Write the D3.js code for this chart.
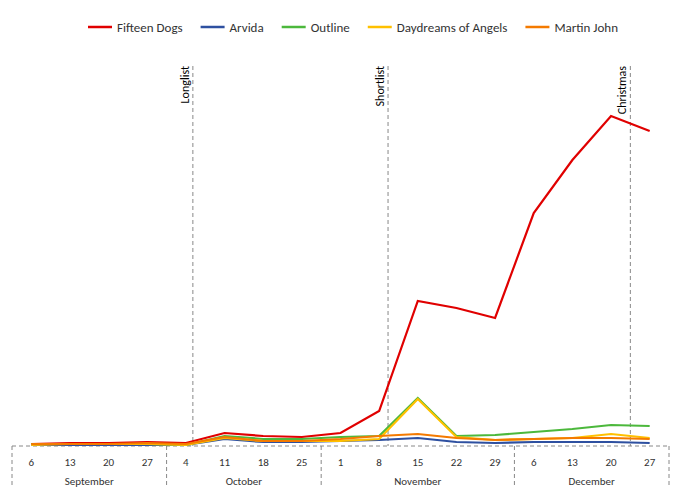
<!DOCTYPE html>
<html><head><meta charset="utf-8">
<script src="https://cdn.jsdelivr.net/npm/d3@7"></script>
<style>body{margin:0;background:#fff;font-family:Carlito,"Liberation Sans",sans-serif;}</style>
</head><body>
<script>
var days = ["6","13","20","27","4","11","18","25","1","8","15","22","29","6","13","20","27"];
var months = [{name: "September", from: 0, to: 3}, {name: "October", from: 4, to: 7},
              {name: "November", from: 8, to: 12}, {name: "December", from: 13, to: 16}];
var fifteenDogs = [2, 3, 3, 4, 3, 13, 10, 9, 13, 35, 145, 138, 128, 233, 286, 330, 315];
var arvida = [1, 1, 1, 1, 1, 7, 4, 4, 5, 6, 8, 4, 3, 4, 4, 4, 3];
var outline = [2, 2, 2, 2, 1, 10, 7, 7, 9, 10, 48, 10, 11, 14, 17, 21, 20];
var daydreams = [1, 2, 2, 2, 1, 8, 5, 5, 5, 7, 47, 9, 6, 7, 8, 12, 8];
var martinJohn = [2, 2, 2, 3, 2, 9, 5, 5, 7, 10, 12, 8, 6, 7, 8, 8, 7];
var events = [{name: "Longlist", at: 4.18}, {name: "Shortlist", at: 9.23}, {name: "Christmas", at: 15.5}];

var series = [
    {name: "Fifteen Dogs", values: fifteenDogs, color: "#e00000"},
    {name: "Arvida", values: arvida, color: "#2e50a0"},
    {name: "Outline", values: outline, color: "#4cb83c"},
    {name: "Daydreams of Angels", values: daydreams, color: "#ffc000"},
    {name: "Martin John", values: martinJohn, color: "#f47a00"}
];
// draw order: red first, others on top
var W = 682, H = 494;
var svg = d3.select("body").append("svg").attr("width", W).attr("height", H);

var x = d3.scaleLinear().domain([-0.5, 16.5]).range([12, 669]);
var y = d3.scaleLinear().domain([0, 330]).range([446, 116]);

// event lines
var ev = svg.selectAll(".ev").data(events).enter().append("g");
ev.append("line")
    .attr("x1", function (d) { return x(d.at); }).attr("x2", function (d) { return x(d.at); })
    .attr("y1", 66).attr("y2", 446)
    .attr("stroke", "#888").attr("stroke-dasharray", "4,3");
ev.append("text")
    .attr("transform", function (d) { return "translate(" + (x(d.at) - 4) + ",66) rotate(-90)"; })
    .attr("text-anchor", "end")
    .style("font-size", "12px")
    .text(function (d) { return d.name; });

// axis
svg.append("line").attr("x1", 12).attr("x2", 669).attr("y1", 446).attr("y2", 446)
    .attr("stroke", "#888").attr("stroke-dasharray", "4,3");
var bounds = [-0.5].concat(months.map(function (m) { return m.to + 0.5; }));
svg.selectAll(".sep").data(bounds).enter().append("line")
    .attr("x1", function (d) { return x(d); }).attr("x2", function (d) { return x(d); })
    .attr("y1", 446).attr("y2", 488)
    .attr("stroke", "#888").attr("stroke-dasharray", "4,3");
svg.selectAll(".day").data(days).enter().append("text")
    .attr("x", function (d, i) { return x(i); }).attr("y", 466)
    .attr("text-anchor", "middle").style("font-size", "11px").attr("fill", "#333")
    .text(function (d) { return d; });
svg.selectAll(".mon").data(months).enter().append("text")
    .attr("x", function (d) { return x((d.from + d.to) / 2); }).attr("y", 485)
    .attr("text-anchor", "middle").style("font-size", "11px").attr("fill", "#333")
    .text(function (d) { return d.name; });

// lines
var line = d3.line().x(function (d, i) { return x(i); }).y(function (d) { return y(d); });
svg.selectAll(".series").data(series).enter().append("path")
    .attr("d", function (d) { return line(d.values); })
    .attr("fill", "none")
    .attr("stroke", function (d) { return d.color; })
    .attr("stroke-width", 2.2);

// legend
var lx = 88;
series.forEach(function (s) {
    var g = svg.append("g").attr("transform", "translate(" + lx + ",27)");
    g.append("line").attr("x1", 0).attr("x2", 24).attr("y1", 0).attr("y2", 0)
        .attr("stroke", s.color).attr("stroke-width", 2.5);
    var t = g.append("text").attr("x", 29).attr("y", 4.5)
        .style("font-size", "13px").attr("fill", "#333").text(s.name);
    lx += 29 + t.node().getComputedTextLength() + 18;
});
</script>
</body></html>
